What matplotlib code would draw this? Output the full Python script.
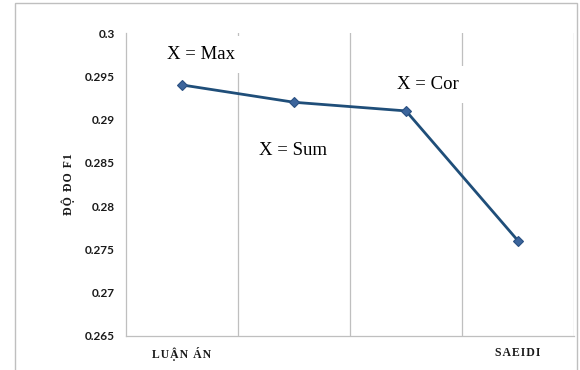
import matplotlib.pyplot as plt
from matplotlib.patches import Rectangle

# data
categories = ['LUẬN ÁN', 'X = Sum', 'X = Cor', 'SAEIDI']
scores = [0.294, 0.292, 0.291, 0.276]
axis_labels = ['LUẬN ÁN', '', '', 'SAEIDI']
notes = ['X = Max', 'X = Sum', 'X = Cor']
yticks = [0.265, 0.27, 0.275, 0.28, 0.285, 0.29, 0.295, 0.3]

serif = ['Liberation Serif', 'DejaVu Serif']
grey = '#BFBFBF'


def spaced(s):
    # wide letter spacing like the Word/Excel labels
    return '\u200a'.join(s)


fig = plt.figure(figsize=(5.8, 3.7), dpi=100)
fig.patches.append(Rectangle((0.026, -0.1), 0.969, 1.092, transform=fig.transFigure,
                             fill=False, edgecolor=grey, linewidth=1.0))
ax = fig.add_axes([0.2172, 0.0919, 0.7725, 0.8189])

x = list(range(len(categories)))
ax.plot(x, scores, '-', color='#1F4E79', linewidth=2, zorder=4)
ax.plot(x, scores, 'D', markersize=5.5, markerfacecolor='#3C659C',
        markeredgecolor='#2A5082', markeredgewidth=0.8, zorder=5)

ax.set_xlim(-0.5, len(categories) - 0.5)
ax.set_ylim(yticks[0], yticks[-1])

# vertical gridlines between categories
ax.set_xticks([i + 0.5 for i in x], minor=True)
ax.grid(True, which='minor', axis='x', color=grey, linewidth=0.9, zorder=1)
ax.tick_params(which='both', length=0)

ax.set_xticks(x)
ax.set_xticklabels([spaced(l) for l in axis_labels], family=serif,
                   fontweight='bold', fontsize=8.5, color='#1a1a1a')
ax.tick_params(axis='x', pad=8)

ax.set_yticks(yticks)
ax.set_yticklabels(['%g' % v for v in yticks], family=['Lato', 'DejaVu Sans'],
                   fontweight='bold', fontsize=8.5, color='#1a1a1a')
ax.tick_params(axis='y', pad=8)

ax.set_ylabel(spaced('ĐỘ ĐO F1'), family=serif, fontweight='bold', fontsize=8.5,
              labelpad=7, color='#1a1a1a')

for s in ['top', 'right']:
    ax.spines[s].set_visible(False)
for s in ['left', 'bottom']:
    ax.spines[s].set_color(grey)
    ax.spines[s].set_linewidth(0.9)

# text boxes next to the first three points
offsets = [(14, 22), (-1, -35), (16, 19)]
for i, (note, off) in enumerate(zip(notes, offsets)):
    ax.annotate(note, (x[i], scores[i]), xytext=off, textcoords='offset points',
                ha='center', va='center', family=serif, fontsize=13.5,
                bbox=dict(boxstyle='square,pad=0.55', facecolor='white',
                          edgecolor='none'),
                zorder=3)

fig.savefig('out.png', dpi=100)
